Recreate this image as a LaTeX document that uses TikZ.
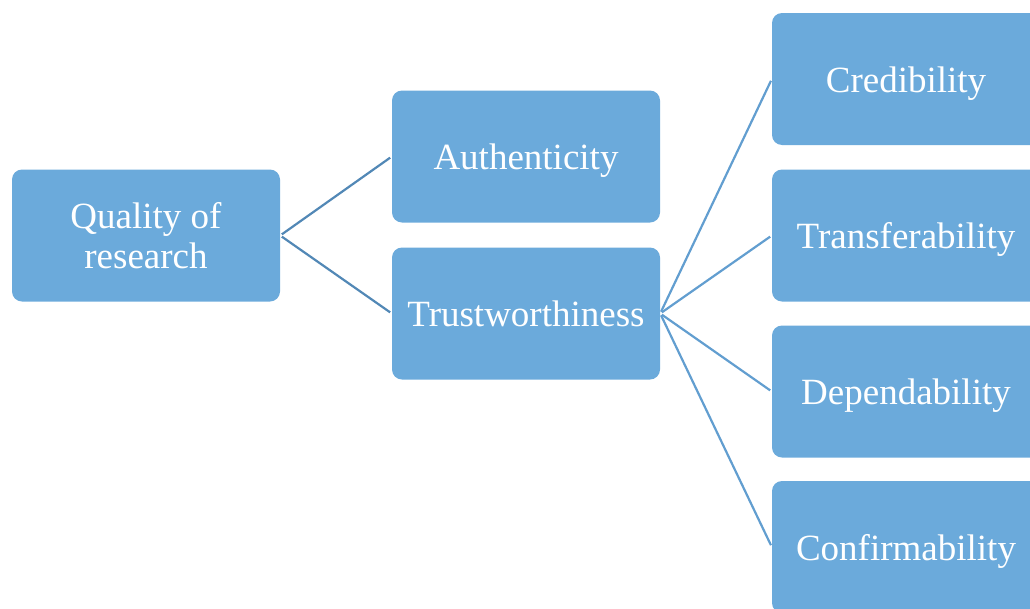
\documentclass[tikz,border=0pt]{standalone}
\usepackage{fontspec}
\setmainfont{Liberation Serif}
\usepackage{tikz}
\pgfdeclarelayer{bg}
\pgfsetlayers{bg,main}
\definecolor{boxblue}{RGB}{107,170,219}
\definecolor{linkdark}{RGB}{82,136,182}
\definecolor{linklight}{RGB}{98,158,208}
\tikzset{
    every node/.style={rectangle, rounded corners=10pt, fill=boxblue, text=white, align=center,
        minimum width=268pt, minimum height=132pt, inner sep=0pt, font=\fontsize{37}{40}\selectfont}
}
\tikzset{one line/.style={text height=28pt, text depth=2pt}}
\tikzset{link/.style={line width=2.2pt, shorten <=2pt, shorten >=2pt}}

\begin{document}
\begin{tikzpicture}[x=1pt, y=-1pt]
        \useasboundingbox (0,0) rectangle (1030,608);
        \clip (0,0) rectangle (1030,608);
        \node (v0) at (146, 235.5) {Quality of\\research};
        \node (v1) [one line] at (526, 156.5) {Authenticity};
        \node (v2) [one line] at (526, 313.5) {Trustworthiness};
        \node (v3) [one line] at (906, 79) {Credibility};
        \node (v4) [one line] at (906, 235.5) {Transferability};
        \node (v5) [one line] at (906, 391.5) {Dependability};
        \node (v6) [one line] at (906, 547) {Confirmability};
        \begin{pgfonlayer}{bg}
                \draw (v0.east) edge [link, draw=linkdark] (v1.west);
                \draw (v0.east) edge [link, draw=linkdark] (v2.west);
                \draw (v2.east) edge [link, draw=linklight] (v3.west);
                \draw (v2.east) edge [link, draw=linklight] (v4.west);
                \draw (v2.east) edge [link, draw=linklight] (v5.west);
                \draw (v2.east) edge [link, draw=linklight] (v6.west);
        \end{pgfonlayer}
\end{tikzpicture}
\end{document}
